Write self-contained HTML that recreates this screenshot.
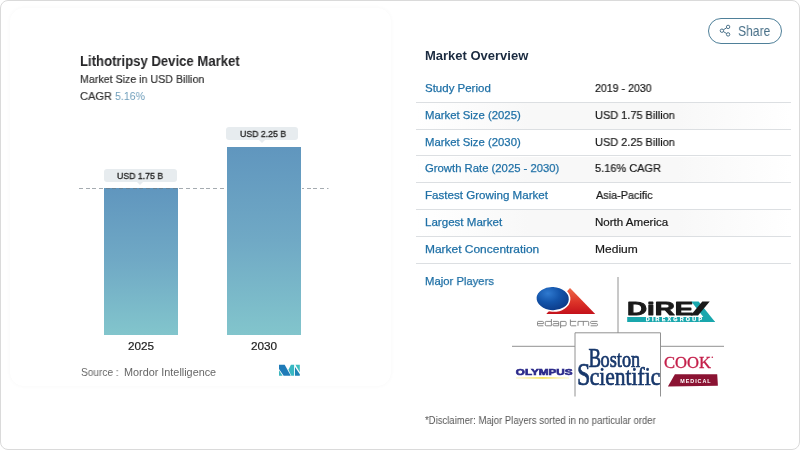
<!DOCTYPE html>
<html>
<head>
<meta charset="utf-8">
<title>Lithotripsy Device Market</title>
<style>
  html, body { margin:0; padding:0; }
  body { width:800px; height:450px; background:#fff; position:relative; overflow:hidden;
         font-family:"Liberation Sans", sans-serif; color:#222; }
  .frame { position:absolute; left:0; top:0; width:798px; height:448px; border:1px solid #dadada; border-radius:8px; background:#fff; }
  .card { position:absolute; left:10px; top:8px; width:381px; height:378px; border-radius:14px; background:#fff;
          box-shadow:0 0 4px rgba(0,0,0,0.035); }
  .t { position:absolute; white-space:nowrap; line-height:1; transform-origin:0 50%; will-change:transform; }
  .bar { position:absolute; background:linear-gradient(180deg,#6096be 0%, #70a9c5 50%, #82c5cc 100%); }
  .dash { position:absolute; top:188px; height:1px; background:repeating-linear-gradient(90deg,rgba(110,120,128,0.62) 0,rgba(110,120,128,0.62) 4px,transparent 4px,transparent 6.7px); }
  .pill { position:absolute; height:13.1px; background:#e7ecef; border-radius:3px; }
  .pill:after { content:""; position:absolute; left:50%; margin-left:-3.5px; bottom:-3px; border-left:3.5px solid transparent; border-right:3.5px solid transparent; border-top:3.5px solid #e7ecef; }
  .ln { position:absolute; left:416px; width:375px; height:1px; background:#dcdfe2; }
  .stripe { position:absolute; left:416px; width:375px; height:26px; background:linear-gradient(90deg,#fff 0%,#f8f8f8 30%,#f8f8f8 70%,#fff 100%); }
  .share { position:absolute; left:707.5px; top:18px; width:72px; height:24px; border:1px solid #4f8099; border-radius:14px; }
  svg { position:absolute; overflow:visible; will-change:transform; }
</style>
</head>
<body>
<div class="frame"></div>
<div class="card"></div>

<div class="bar" style="left:104px; top:188px; width:74px; height:146.6px;"></div>
<div class="bar" style="left:227px; top:146.5px; width:74px; height:188.1px;"></div>
<div class="dash" style="left:79px;width:147.4px;"></div>
<div class="dash" style="left:79px;width:249.5px;clip-path:inset(0 0 0 223px);"></div>
<div class="pill" style="left:104.3px; top:168.5px; width:72.6px;"></div>
<div class="pill" style="left:226.3px; top:127px; width:72px;"></div>

<div class="stripe" style="top:103px;"></div>
<div class="stripe" style="top:156.5px;"></div>
<div class="stripe" style="top:210px;"></div>
<div class="ln" style="top:102px;"></div>
<div class="ln" style="top:129px;"></div>
<div class="ln" style="top:155px;"></div>
<div class="ln" style="top:182px;"></div>
<div class="ln" style="top:209px;"></div>
<div class="ln" style="top:236px;"></div>
<div class="ln" style="top:263px;"></div>

<div class="share"></div>
<div class="t" id="title" style="left:79.86px;top:53.65px;font-size:14px;font-weight:bold;color:#262628;transform:scaleX(0.9369);">Lithotripsy Device Market</div>
<div class="t" id="sub" style="left:79.89px;top:73.10px;font-size:11.7px;color:#333;-webkit-text-stroke:0.2px #333;transform:scaleX(0.9112);">Market Size in USD Billion</div>
<div class="t" id="cagr" style="left:79.77px;top:89.60px;font-size:11.7px;color:#333;-webkit-text-stroke:0.2px #333;transform:scaleX(0.9470);">CAGR</div>
<div class="t" id="cagrv" style="left:115.36px;top:89.60px;font-size:11.7px;color:#6d9dba;transform:scaleX(0.9036);">5.16%</div>
<div class="t" id="p1t" style="left:117.29px;top:172.08px;font-size:9px;color:#1f1f1f;-webkit-text-stroke:0.3px #1f1f1f;transform:scaleX(0.9705);">USD 1.75 B</div>
<div class="t" id="p2t" style="left:240.29px;top:130.28px;font-size:9px;color:#1f1f1f;-webkit-text-stroke:0.3px #1f1f1f;transform:scaleX(0.9705);">USD 2.25 B</div>
<div class="t" id="x1" style="left:127.97px;top:341.07px;font-size:11.5px;color:#222;-webkit-text-stroke:0.2px #222;transform:scaleX(1.0199);">2025</div>
<div class="t" id="x2" style="left:250.77px;top:341.07px;font-size:11.5px;color:#222;-webkit-text-stroke:0.2px #222;transform:scaleX(1.0225);">2030</div>
<div class="t" id="src1" style="left:81.09px;top:367.01px;font-size:10.5px;color:#666;transform:scaleX(0.9607);">Source :</div>
<div class="t" id="src2" style="left:123.77px;top:367.01px;font-size:10.5px;color:#666;transform:scaleX(1.0318);">Mordor Intelligence</div>
<div class="t" id="h2" style="left:424.58px;top:50.36px;font-size:12.8px;font-weight:bold;color:#1b2b40;transform:scaleX(1.0152);">Market Overview</div>
<div class="t" id="k1" style="left:424.93px;top:83.03px;font-size:11.3px;color:#1f70a6;-webkit-text-stroke:0.25px #1f70a6;transform:scaleX(1.0168);">Study Period</div>
<div class="t" id="v1" style="left:595.44px;top:83.03px;font-size:11.3px;color:#181818;-webkit-text-stroke:0.2px #181818;transform:scaleX(0.9393);">2019 - 2030</div>
<div class="t" id="k2" style="left:424.80px;top:110.03px;font-size:11.3px;color:#1f70a6;-webkit-text-stroke:0.25px #1f70a6;transform:scaleX(1.0030);">Market Size (2025)</div>
<div class="t" id="v2" style="left:594.93px;top:110.03px;font-size:11.3px;color:#181818;-webkit-text-stroke:0.2px #181818;transform:scaleX(0.9700);">USD 1.75 Billion</div>
<div class="t" id="k3" style="left:424.80px;top:137.03px;font-size:11.3px;color:#1f70a6;-webkit-text-stroke:0.25px #1f70a6;transform:scaleX(1.0030);">Market Size (2030)</div>
<div class="t" id="v3" style="left:594.93px;top:137.03px;font-size:11.3px;color:#181818;-webkit-text-stroke:0.2px #181818;transform:scaleX(0.9700);">USD 2.25 Billion</div>
<div class="t" id="k4" style="left:425.08px;top:163.03px;font-size:11.3px;color:#1f70a6;-webkit-text-stroke:0.25px #1f70a6;transform:scaleX(0.9994);">Growth Rate (2025 - 2030)</div>
<div class="t" id="v4" style="left:595.32px;top:163.03px;font-size:11.3px;color:#181818;-webkit-text-stroke:0.2px #181818;transform:scaleX(0.9728);">5.16% CAGR</div>
<div class="t" id="k5" style="left:424.57px;top:190.03px;font-size:11.3px;color:#1f70a6;-webkit-text-stroke:0.25px #1f70a6;transform:scaleX(1.0257);">Fastest Growing Market</div>
<div class="t" id="v5" style="left:595.79px;top:190.03px;font-size:11.3px;color:#181818;-webkit-text-stroke:0.2px #181818;transform:scaleX(0.9608);">Asia-Pacific</div>
<div class="t" id="k6" style="left:424.58px;top:217.03px;font-size:11.3px;color:#1f70a6;-webkit-text-stroke:0.25px #1f70a6;transform:scaleX(1.0238);">Largest Market</div>
<div class="t" id="v6" style="left:594.88px;top:217.03px;font-size:11.3px;color:#181818;-webkit-text-stroke:0.2px #181818;transform:scaleX(1.0223);">North America</div>
<div class="t" id="k7" style="left:424.54px;top:244.03px;font-size:11.3px;color:#1f70a6;-webkit-text-stroke:0.25px #1f70a6;transform:scaleX(1.0578);">Market Concentration</div>
<div class="t" id="v7" style="left:594.84px;top:244.03px;font-size:11.3px;color:#181818;-webkit-text-stroke:0.2px #181818;transform:scaleX(1.0637);">Medium</div>
<div class="t" id="mp" style="left:424.60px;top:276.03px;font-size:11.3px;color:#1f70a6;-webkit-text-stroke:0.25px #1f70a6;transform:scaleX(0.9970);">Major Players</div>
<div class="t" id="disc" style="left:425.41px;top:415.11px;font-size:10.5px;color:#555;transform:scaleX(0.9068);">*Disclaimer: Major Players sorted in no particular order</div>
<div class="t" id="share" style="left:738.02px;top:23.85px;font-size:14px;color:#4a7189;transform:scaleX(0.8666);">Share</div>

<svg width="800" height="450" viewBox="0 0 800 450" style="left:0;top:0;">
  <defs>
    <radialGradient id="gBall" cx="0.35" cy="0.3" r="0.8">
      <stop offset="0" stop-color="#2f7ad0"/>
      <stop offset="0.45" stop-color="#1354aa"/>
      <stop offset="1" stop-color="#0a3580"/>
    </radialGradient>
    <linearGradient id="gTri" x1="0" y1="0" x2="0" y2="1">
      <stop offset="0" stop-color="#ee6a4a"/>
      <stop offset="0.55" stop-color="#dc3328"/>
      <stop offset="1" stop-color="#c4111b"/>
    </linearGradient>
    <linearGradient id="gOly" x1="0" y1="0" x2="1" y2="0">
      <stop offset="0" stop-color="#f6e36a" stop-opacity="0.35"/>
      <stop offset="0.5" stop-color="#f2d400" stop-opacity="0.9"/>
      <stop offset="1" stop-color="#f6e36a" stop-opacity="0.3"/>
    </linearGradient>
  </defs>

  <!-- share icon -->
  <g fill="none" stroke="#4a7189" stroke-width="1">
    <circle cx="728.1" cy="26.9" r="1.7"/>
    <circle cx="721.9" cy="30.7" r="1.7"/>
    <circle cx="728.1" cy="34.4" r="1.7"/>
    <path d="M723.4,29.8 L726.6,27.8 M723.4,31.6 L726.6,33.5"/>
  </g>

  <!-- Mordor Intelligence mark -->
  <g>
    <polygon points="279.0,364.7 284.7,364.7 290.75,375.7 283.65,375.7 279.0,368.9" fill="#1f7bb8"/>
    <polygon points="279.0,370.2 279.0,375.7 282.6,375.7" fill="#3cb6be"/>
    <polygon points="290.9,364.7 294.1,364.7 294.1,375.7 291.3,375.7 288.45,369.65" fill="#38b7c2"/>
    <polygon points="295.4,364.7 299.8,364.7 299.8,372.3" fill="#3ebfc0"/>
    <polygon points="295.0,367.0 299.8,374.3 299.8,375.7 295.0,375.7" fill="#1d82b5"/>
  </g>

  <!-- divider lines -->
  <g stroke="#929292" stroke-width="1" fill="none">
    <path d="M618,277 V333"/>
    <path d="M575,396.5 V332.8 H660.5 V396.5"/>
    <path d="M512,346.3 H575 M660.5,346.3 H724"/>
  </g>

  <!-- edap tms -->
  <polygon points="570,288 595.2,314 546.3,314" fill="url(#gTri)"/>
  <ellipse cx="552.7" cy="298.6" rx="16.9" ry="12.4" transform="rotate(3 552.7 298.6)" fill="url(#gBall)" stroke="#fff" stroke-width="1.6"/>
  <g fill="none" stroke="#7d7d7d" stroke-width="0.9" stroke-linejoin="round">
    <path d="M537.5,323.6 H543.4 V322.3 Q543.4,321.4 542.5,321.4 H538.4 Q537.5,321.4 537.5,322.3 V324.9 Q537.5,325.8 538.4,325.8 H543.4"/>
    <path d="M551.4,319 V325.8 H546.2 Q545.3,325.8 545.3,324.9 V322.3 Q545.3,321.4 546.2,321.4 H551.4"/>
    <path d="M553,321.4 H557.8 Q558.7,321.4 558.7,322.3 V325.8 H553.9 Q553,325.8 553,324.9 V324.4 Q553,323.6 553.9,323.6 H558.7"/>
    <path d="M560.6,328 V321.4 H565.2 Q566.1,321.4 566.1,322.3 V324.9 Q566.1,325.8 565.2,325.8 H560.6"/>
    <path d="M570.4,319.5 V324.9 Q570.4,325.8 571.3,325.8 H576.2 M570.4,321.4 H576.2"/>
    <path d="M578,325.8 V321.4 H587.8 Q588.7,321.4 588.7,322.3 V325.8 M583.3,321.4 V325.8"/>
    <path d="M597.5,321.4 H591.5 Q590.6,321.4 590.6,322.3 V322.7 Q590.6,323.6 591.5,323.6 H596.6 Q597.5,323.6 597.5,324.5 V324.9 Q597.5,325.8 596.6,325.8 H590.6"/>
  </g>

  <!-- DiREX -->
  <polygon points="627.2,316.9 708,316.9 715.1,321.9 627.2,321.9" fill="#19a7ad"/>
  <text x="627" y="315.4" font-family="Liberation Sans, sans-serif" font-weight="bold" font-size="19.2" fill="#1a1a1a" stroke="#1a1a1a" stroke-width="0.9" stroke-linejoin="round" textLength="66.4" lengthAdjust="spacingAndGlyphs">DiRE</text>
  <polygon points="691.3,301.5 698.6,301.5 715.1,321.9 707.2,321.9" fill="#19a7ad"/>
  <polygon points="690.6,315.6 698,315.6 709.7,301.5 702.3,301.5" fill="#1a1a1a"/>
  <text x="645.8" y="321.1" font-family="Liberation Sans, sans-serif" font-weight="bold" font-size="5.4" fill="#fff" stroke="#fff" stroke-width="0.25" textLength="56.2" lengthAdjust="spacing">DIREXGROUP</text>

  <!-- OLYMPUS -->
  <text x="515.8" y="374.7" font-family="Liberation Sans, sans-serif" font-weight="bold" font-size="8.4" fill="#2b2a8a" stroke="#2b2a8a" stroke-width="0.6" textLength="56.7" lengthAdjust="spacingAndGlyphs">OLYMPUS</text>
  <rect x="516" y="377.3" width="53" height="1.3" fill="url(#gOly)"/>

  <!-- Boston Scientific -->
  <g font-family="Liberation Serif, serif" fill="#17376b" stroke="#17376b" stroke-width="0.7">
    <text x="588.4" y="366.7" font-size="26.4" textLength="12.6" lengthAdjust="spacingAndGlyphs">B</text>
    <text x="600.6" y="366.7" font-size="23.6" textLength="39.6" lengthAdjust="spacingAndGlyphs">oston</text>
    <text x="576.9" y="384.8" font-size="32" textLength="13.4" lengthAdjust="spacingAndGlyphs">S</text>
    <text x="589.8" y="384.8" font-size="26" textLength="70.4" lengthAdjust="spacingAndGlyphs">cientific</text>
  </g>

  <!-- COOK MEDICAL -->
  <text x="664" y="367.8" font-family="Liberation Serif, serif" font-size="17.2" fill="#c41f4a" stroke="#c41f4a" stroke-width="0.35" textLength="47" lengthAdjust="spacingAndGlyphs">COOK</text>
  <circle cx="712.3" cy="357.3" r="0.8" fill="#c41f4a"/>
  <polygon points="674.9,374.3 717.2,374.3 717.9,385.7 667.9,386.4" fill="#8b1333"/>
  <text x="680.3" y="382.6" font-family="Liberation Sans, sans-serif" font-weight="bold" font-size="5.4" fill="#fff" textLength="30.3" lengthAdjust="spacing">MEDICAL</text>
</svg>

</body>
</html>
